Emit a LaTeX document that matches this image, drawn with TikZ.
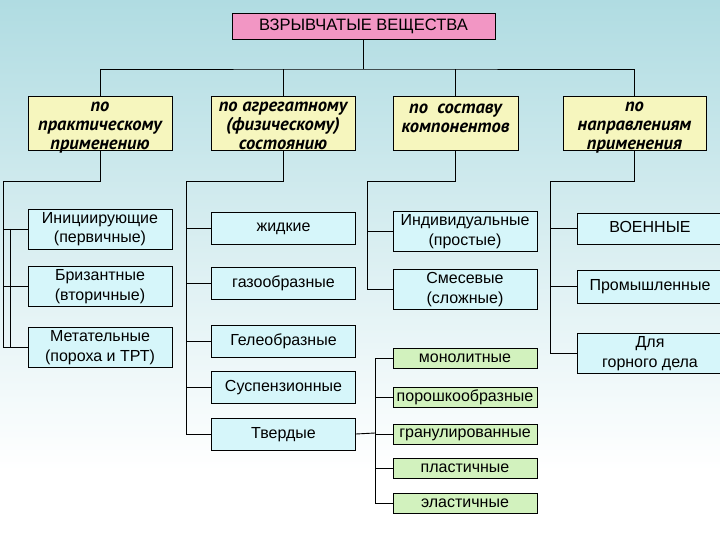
\documentclass[tikz,border=0pt]{standalone}
\usepackage{fontspec}
\setmainfont{Liberation Sans}
\newfontfamily\headfont{PT Sans}
\usetikzlibrary{calc}
\definecolor{bgtop}{RGB}{176,220,226}
\definecolor{titlefill}{RGB}{242,150,196}
\definecolor{headfill}{RGB}{246,246,190}
\definecolor{kindfill}{RGB}{214,246,250}
\definecolor{formfill}{RGB}{210,242,190}

\begin{document}
\begin{tikzpicture}[x=1pt,y=-1pt,line width=0.9pt,
  titlebox/.style={draw,fill=titlefill,inner sep=0pt,minimum width=263pt,minimum height=26pt,font=\fontsize{16.5}{18}\selectfont},
  headbox/.style={draw,fill=headfill,inner sep=0pt,minimum height=54pt},
  headtext/.style={anchor=north,align=center,inner sep=0pt,font=\headfont\bfseries\itshape\fontsize{18.5}{19}\selectfont},
  kindbox/.style={draw,fill=kindfill,inner sep=0pt,align=center,minimum width=144pt,font=\fontsize{16}{20}\selectfont},
  formbox/.style={draw,fill=formfill,inner sep=0pt,minimum width=144pt,minimum height=20pt,font=\fontsize{16}{18}\selectfont}]

  % background
  \useasboundingbox (0,0) rectangle (720,540);
  \shade[top color=bgtop,bottom color=white] (0,0) rectangle (720,470);
  \fill[white] (0,470) rectangle (720,540);

  % title and classification headers
  \node[titlebox] (vv) at (363.5,26) {ВЗРЫВЧАТЫЕ ВЕЩЕСТВА};
  \node[headbox,minimum width=144pt] (h1) at (100,123) {};
  \node[headbox,minimum width=144pt] (h2) at (283,123) {};
  \node[headbox,minimum width=125pt] (h3) at (455.5,123) {};
  \node[headbox,minimum width=143pt] (h4) at (634.5,123) {};
  \node[headtext] (h1t) at ([yshift=-2pt]h1.north) {\strut по\\практическому\\применению};
  \node[headtext] (h2t) at ([yshift=-2pt]h2.north) {\strut по агрегатному\\(физическому)\\состоянию};
  \node[headtext] (h3t) at ([yshift=-4pt]h3.north) {\strut по~ составу\\компонентов};
  \node[headtext] (h4t) at ([yshift=-2pt]h4.north) {\strut по\\направлениям\\применения};

  % by use
  \node[kindbox,minimum height=38pt] (ini) at (100,229) {\strut Инициирующие\\(первичные)\strut};
  \node[kindbox,minimum height=38pt] (bri) at (100,286) {\strut Бризантные\\(вторичные)\strut};
  \node[kindbox,minimum height=39pt] (met) at (100,347.5) {\strut Метательные\\(пороха и ТРТ)\strut};

  % by state
  \node[kindbox,minimum height=32pt] (liq) at (283.5,228) {\strut жидкие};
  \node[kindbox,minimum height=32pt] (gas) at (283.5,283) {\strut газообразные};
  \node[kindbox,minimum height=32pt] (gel) at (283.5,341) {\strut Гелеобразные};
  \node[kindbox,minimum height=32pt] (sus) at (283.5,387) {\strut Суспензионные};
  \node[kindbox,minimum height=32pt] (tve) at (283.5,434) {\strut Твердые};

  % by composition
  \node[kindbox,minimum height=38pt] (ind) at (465,231) {\strut Индивидуальные\\(простые)\strut};
  \node[kindbox,minimum height=38pt] (mix) at (465,289) {\strut Смесевые\\(сложные)\strut};

  % by field
  \node[kindbox,minimum width=146pt,minimum height=31pt] (mil) at (650,228.5) {\strut ВОЕННЫЕ};
  \node[kindbox,minimum width=146pt,minimum height=33pt] (prom) at (650,286.5) {\strut Промышленные};
  \node[kindbox,minimum width=146pt,minimum height=39pt] (mine) at (650,353.5) {\strut Для\\горного дела\strut};

  % forms of solids
  \node[formbox] (mon) at (465,358) {монолитные};
  \node[formbox] (pow) at (465,397) {порошкообразные};
  \node[formbox] (gra) at (465,434.5) {гранулированные};
  \node[formbox] (pla) at (465,468) {пластичные};
  \node[formbox] (ela) at (465,503) {эластичные};

  % connectors
  \coordinate (bus) at (363.5,69);
  \draw (vv) -- (bus);
  \draw (h1.north) |- (bus) -| (h4.north);
  \foreach \h in {h2,h3}
    \draw (\h.north) -- (\h.north |- bus);

  \coordinate (s1) at (3,181);
  \coordinate (s1b) at (10,181);
  \draw (h1.south) |- (s1) |- (met.west);
  \foreach \n in {ini,bri}
    \draw (s1 |- \n.west) -- (\n.west);
  \draw (s1b |- ini.west) -- (s1b |- met.west);

  \coordinate (s2) at (186,181);
  \draw (h2.south) |- (s2) |- (tve.west);
  \foreach \n in {liq,gas,gel,sus}
    \draw (s2 |- \n.west) -- (\n.west);

  \coordinate (s3) at (367,181);
  \draw (h3.south) |- (s3) |- (mix.west);
  \draw (s3 |- ind.west) -- (ind.west);

  \coordinate (s4) at (550,181);
  \draw (h4.south) |- (s4) |- (mine.west);
  \foreach \n in {mil,prom}
    \draw (s4 |- \n.west) -- (\n.west);

  \coordinate (s5) at (375,433);
  \draw (tve.east) -- (s5);
  \draw (s5 |- mon.west) -- (s5 |- ela.west);
  \foreach \n in {mon,pow,gra,pla,ela}
    \draw (s5 |- \n.west) -- (\n.west);

\end{tikzpicture}
\end{document}
